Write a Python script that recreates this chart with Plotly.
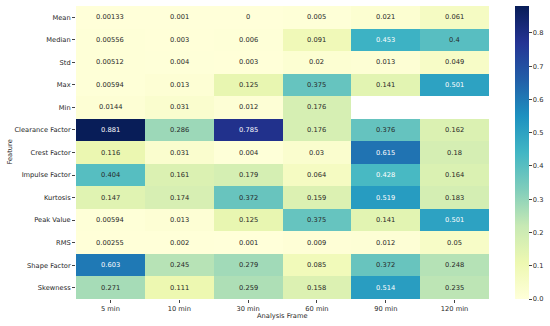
import plotly.graph_objects as go

features = ["Mean", "Median", "Std", "Max", "Min", "Clearance Factor", "Crest Factor",
            "Impulse Factor", "Kurtosis", "Peak Value", "RMS", "Shape Factor", "Skewness"]
frames = ["5 min", "10 min", "30 min", "60 min", "90 min", "120 min"]

v_mean = [0.00133, 0.001, 0, 0.005, 0.021, 0.061]
v_median = [0.00556, 0.003, 0.006, 0.091, 0.453, 0.4]
v_std = [0.00512, 0.004, 0.003, 0.02, 0.013, 0.049]
v_max = [0.00594, 0.013, 0.125, 0.375, 0.141, 0.501]
v_min = [0.0144, 0.031, 0.012, 0.176, None, None]
v_clearance = [0.881, 0.286, 0.785, 0.176, 0.376, 0.162]
v_crest = [0.116, 0.031, 0.004, 0.03, 0.615, 0.18]
v_impulse = [0.404, 0.161, 0.179, 0.064, 0.428, 0.164]
v_kurtosis = [0.147, 0.174, 0.372, 0.159, 0.519, 0.183]
v_peak = [0.00594, 0.013, 0.125, 0.375, 0.141, 0.501]
v_rms = [0.00255, 0.002, 0.001, 0.009, 0.012, 0.05]
v_shape = [0.603, 0.245, 0.279, 0.085, 0.372, 0.248]
v_skew = [0.271, 0.111, 0.259, 0.158, 0.514, 0.235]

z = [v_mean, v_median, v_std, v_max, v_min, v_clearance, v_crest,
     v_impulse, v_kurtosis, v_peak, v_rms, v_shape, v_skew]

ylgnbu = ["#ffffd9", "#edf8b1", "#c7e9b4", "#7fcdbb", "#41b6c4",
          "#1d91c0", "#225ea8", "#253494", "#081d58"]
cs = [[i / 8, c] for i, c in enumerate(ylgnbu)]

zmax = max(v for row in z for v in row if v is not None)

W, H = 550, 326
L, R, T, B = 76, 10, 6, 27
pw = W - L - R
ph = H - T - B
FS = 6.7
TXT = "#262626"

fig = go.Figure()
fig.add_trace(go.Heatmap(
    z=z, x=frames, y=features, colorscale=cs, zmin=0, zmax=zmax,
    hoverongaps=False,
    colorbar=dict(
        x=(515 - L) / pw, xanchor="left", xpad=0, thickness=14, len=1.0, y=0.5, yanchor="middle",
        ypad=0, outlinewidth=0, tickvals=[0, 0.1, 0.2, 0.3, 0.4, 0.5, 0.6, 0.7, 0.8],
        ticktext=["0.0", "0.1", "0.2", "0.3", "0.4", "0.5", "0.6", "0.7", "0.8"],
        ticks="outside", ticklen=3, tickcolor="#444", tickfont=dict(size=FS, color=TXT),
    ),
))

for i, row in enumerate(z):
    for j, v in enumerate(row):
        if v is None:
            continue
        color = "white" if v > 0.42 else TXT
        fig.add_annotation(x=frames[j], y=features[i], text=str(v), showarrow=False,
                           font=dict(size=FS, color=color, family="DejaVu Sans"))

fig.add_annotation(xref="paper", yref="paper", x=(282 - L) / pw, y=-(316 - T - ph) / ph,
                   text="Analysis Frame", showarrow=False, xanchor="center", yanchor="middle",
                   font=dict(size=FS, color=TXT))
fig.add_annotation(xref="paper", yref="paper", x=(9 - L) / pw, y=0.5, textangle=-90,
                   text="Feature", showarrow=False, xanchor="center", yanchor="middle",
                   font=dict(size=FS, color=TXT))

fig.update_layout(
    width=W, height=H,
    margin=dict(l=L, r=R, t=T, b=B, autoexpand=False),
    paper_bgcolor="white", plot_bgcolor="white",
    font=dict(family="DejaVu Sans", size=FS, color=TXT),
    xaxis=dict(domain=[0, (489 - L) / pw], ticks="outside", ticklen=3, tickcolor="#444",
               tickfont=dict(size=FS, color=TXT),
               showgrid=False, zeroline=False, automargin=False),
    yaxis=dict(autorange="reversed", ticks="outside", ticklen=3, tickcolor="#444",
               tickfont=dict(size=FS, color=TXT),
               showgrid=False, zeroline=False, automargin=False),
)

fig.write_html("out.html", config={"displayModeBar": False},
               post_script="document.body.style.margin='0';document.body.style.overflow='hidden';")
